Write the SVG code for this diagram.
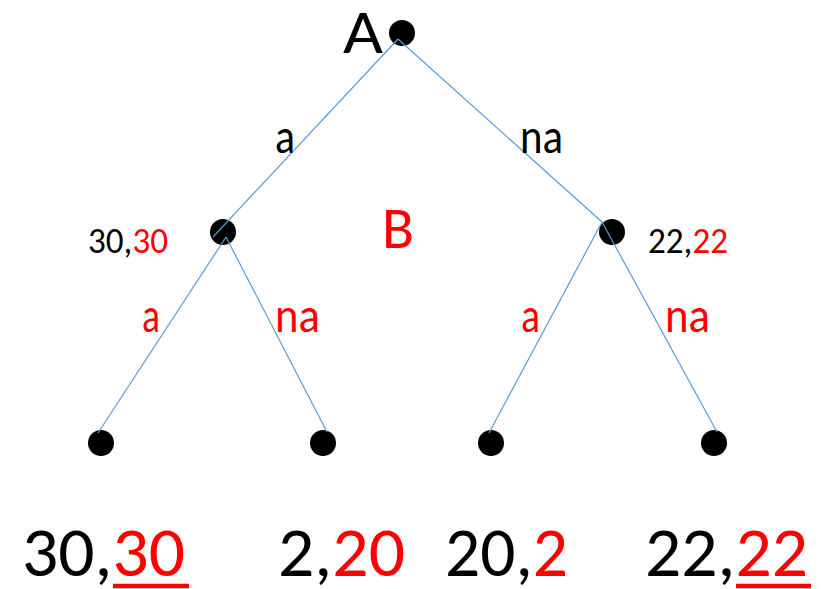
<svg xmlns="http://www.w3.org/2000/svg" width="823" height="589" viewBox="0 0 823 589">
<style>
text{font-family:Carlito,Lato,"Liberation Sans",sans-serif;}
.k{fill:#000}
.r{fill:#FF0000}
.dot{fill:#000}
.edge{stroke:#5B9BD5;stroke-width:1.2;fill:none}
.ul{stroke:#FF0000;stroke-width:4.5}
</style>
<rect width="823" height="589" fill="#fff"/>
<g id="nodeA">
<circle class="dot" cx="402" cy="33" r="13"/>
<text x="343" y="53" font-size="62" class="k" textLength="40" lengthAdjust="spacingAndGlyphs">A</text>
</g>
<g id="nodeB1">
<circle class="dot" cx="223" cy="232" r="13"/>
<text x="88" y="253" font-size="36" textLength="80" lengthAdjust="spacingAndGlyphs"><tspan class="k">30,</tspan><tspan class="r">30</tspan></text>
</g>
<g id="nodeB2">
<circle class="dot" cx="612" cy="232" r="13"/>
<text x="648" y="253" font-size="36" textLength="80" lengthAdjust="spacingAndGlyphs"><tspan class="k">22,</tspan><tspan class="r">22</tspan></text>
</g>
<g id="labelB">
<text x="382" y="248" font-size="60" class="r" textLength="32" lengthAdjust="spacingAndGlyphs">B</text>
</g>
<g id="leaf1">
<circle class="dot" cx="101" cy="443" r="13"/>
<text x="22" y="576" font-size="70" textLength="163" lengthAdjust="spacingAndGlyphs"><tspan class="k">30,</tspan><tspan class="r">30</tspan></text>
<line class="ul" x1="113" y1="586" x2="189" y2="586"/>
</g>
<g id="leaf2">
<circle class="dot" cx="323" cy="443" r="13"/>
<text x="278" y="576" font-size="70" textLength="127" lengthAdjust="spacingAndGlyphs"><tspan class="k">2,</tspan><tspan class="r">20</tspan></text>
</g>
<g id="leaf3">
<circle class="dot" cx="491" cy="443" r="13"/>
<text x="445" y="576" font-size="70" textLength="123" lengthAdjust="spacingAndGlyphs"><tspan class="k">20,</tspan><tspan class="r">2</tspan></text>
</g>
<g id="leaf4">
<circle class="dot" cx="714" cy="443" r="13"/>
<text x="645" y="576" font-size="70" textLength="163" lengthAdjust="spacingAndGlyphs"><tspan class="k">22,</tspan><tspan class="r">22</tspan></text>
<line class="ul" x1="736" y1="586" x2="811" y2="586"/>
</g>
<g id="connectors">
<line class="edge" x1="398" y1="39" x2="213" y2="237"/>
<line class="edge" x1="398" y1="39" x2="602" y2="222"/>
<line class="edge" x1="226" y1="237" x2="98" y2="433"/>
<line class="edge" x1="226" y1="237" x2="327" y2="432"/>
<line class="edge" x1="602" y1="222" x2="489" y2="433"/>
<line class="edge" x1="602" y1="222" x2="717" y2="432"/>
<text x="275" y="153" font-size="49" class="k" textLength="20" lengthAdjust="spacingAndGlyphs">a</text>
<text x="520" y="153" font-size="49" class="k" textLength="43" lengthAdjust="spacingAndGlyphs">na</text>
<text x="142" y="332" font-size="49" class="r" textLength="18" lengthAdjust="spacingAndGlyphs">a</text>
<text x="275" y="332" font-size="49" class="r" textLength="45" lengthAdjust="spacingAndGlyphs">na</text>
<text x="521" y="332" font-size="49" class="r" textLength="19" lengthAdjust="spacingAndGlyphs">a</text>
<text x="665" y="332" font-size="49" class="r" textLength="45" lengthAdjust="spacingAndGlyphs">na</text>
</g>
</svg>
